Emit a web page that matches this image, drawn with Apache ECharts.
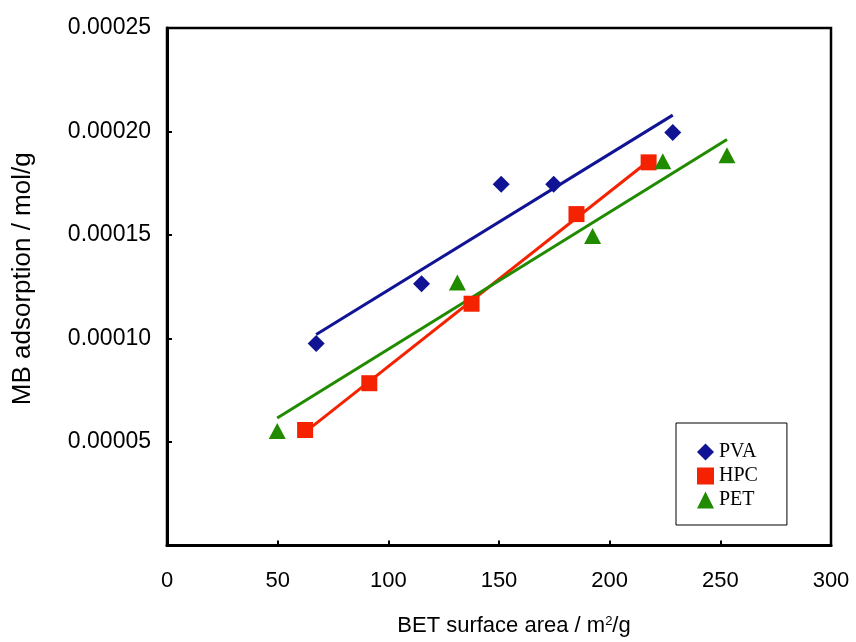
<!DOCTYPE html>
<html>
<head>
<meta charset="utf-8">
<script src="https://cdn.jsdelivr.net/npm/echarts@6/dist/echarts.min.js"></script>
<style>
html,body{margin:0;padding:0;background:#fff;}
#chart{width:856px;height:642px;}
</style>
</head>
<body>
<div id="chart"></div>
<script>
// Data
const pvaX = [67.4, 115, 151, 174.7, 228.5];
const pvaY = [0.0000976, 0.0001264, 0.0001745, 0.0001745, 0.0001995];
const hpcX = [62.4, 91.4, 137.6, 185, 217.6];
const hpcY = [0.0000558, 0.0000784, 0.0001168, 0.0001601, 0.0001851];
const petX = [49.8, 131.2, 192.3, 224, 253];
const petY = [0.0000553, 0.000127, 0.0001495, 0.0001856, 0.0001885];
const seriesNames = ['PVA', 'HPC', 'PET'];
const xTicks = [0, 50, 100, 150, 200, 250, 300];
const yTicks = [0, 0.00005, 0.0001, 0.00015, 0.0002, 0.00025];

const colors = {PVA: '#101494', HPC: '#F52200', PET: '#218B00'};
const symbols = {PVA: 'diamond', HPC: 'rect', PET: 'triangle'};
const sizes = {PVA: [17, 17], HPC: [16, 16], PET: [17, 16]};

function pairs(xs, ys) { return xs.map((x, i) => [x, ys[i]]); }
function fit(xs, ys) {
  const n = xs.length;
  const mx = xs.reduce((a, b) => a + b, 0) / n;
  const my = ys.reduce((a, b) => a + b, 0) / n;
  let sxy = 0, sxx = 0;
  for (let i = 0; i < n; i++) { sxy += (xs[i] - mx) * (ys[i] - my); sxx += (xs[i] - mx) ** 2; }
  const b = sxy / sxx, a = my - b * mx;
  const x0 = Math.min(...xs), x1 = Math.max(...xs);
  return [[x0, a + b * x0], [x1, a + b * x1]];
}

const dataSets = {PVA: [pvaX, pvaY], HPC: [hpcX, hpcY], PET: [petX, petY]};
const series = [];
seriesNames.forEach(name => {
  const [xs, ys] = dataSets[name];
  series.push({
    name: name + ' fit', type: 'line', data: fit(xs, ys), showSymbol: false, silent: true,
    lineStyle: {color: colors[name], width: 3}, z: 2
  });
});
seriesNames.forEach(name => {
  const [xs, ys] = dataSets[name];
  series.push({
    name: name, type: 'scatter', data: pairs(xs, ys), symbol: symbols[name], symbolSize: sizes[name],
    itemStyle: {color: colors[name], opacity: 1}, z: 3
  });
});

const chart = echarts.init(document.getElementById('chart'));
chart.setOption({
  animation: false,
  backgroundColor: '#fff',
  grid: {left: 167, right: 25, top: 28, bottom: 94, show: true, borderColor: '#000', borderWidth: 2.5},
  legend: {
    data: seriesNames.map(n => ({name: n, icon: symbols[n], itemStyle: {color: colors[n], opacity: 1}})),
    orient: 'vertical', left: 676, top: 423,
    padding: [19, 29, 15, 21], itemGap: 4, itemWidth: 17, itemHeight: 17,
    borderColor: '#000', borderWidth: 1, backgroundColor: '#fff',
    textStyle: {fontFamily: 'Liberation Serif', fontSize: 20, color: '#000'}
  },
  xAxis: {
    type: 'value', min: 0, max: 300, interval: 50,
    axisLine: {show: true, lineStyle: {color: '#000', width: 3}},
    axisTick: {show: true, inside: true, length: 5, lineStyle: {color: '#000', width: 2}},
    splitLine: {show: false},
    axisLabel: {margin: 24, color: '#000', fontFamily: 'Liberation Sans', fontSize: 22,
      formatter: v => xTicks.includes(v) ? String(v) : ''},
    name: 'BET surface area / m{sup|2}/g', nameLocation: 'middle', nameGap: 69,
    nameTextStyle: {color: '#000', fontFamily: 'Liberation Sans', fontSize: 22, padding: [0, 0, 0, 30],
      rich: {sup: {fontSize: 13, verticalAlign: 'top', padding: [0, 0, 10, 0], color: '#000', fontFamily: 'Liberation Sans'}}}
  },
  yAxis: {
    type: 'value', min: 0, max: 0.00025, interval: 0.00005,
    axisLine: {show: true, lineStyle: {color: '#000', width: 3}},
    axisTick: {show: true, inside: true, length: 5, lineStyle: {color: '#000', width: 2}},
    splitLine: {show: false},
    axisLabel: {margin: 16, color: '#000', fontFamily: 'Liberation Sans', fontSize: 23,
      formatter: v => {
        const t = yTicks.find(k => Math.abs(k - v) < 1e-9);
        if (t === undefined || t === 0) return '';
        return t.toFixed(5);
      }},
    name: 'MB adsorption / mol/g', nameLocation: 'middle', nameGap: 131, nameRotate: 90,
    nameTextStyle: {color: '#000', fontFamily: 'Liberation Sans', fontSize: 26, padding: [0, 0, 0, 16]}
  },
  series: series
});
</script>
</body>
</html>
